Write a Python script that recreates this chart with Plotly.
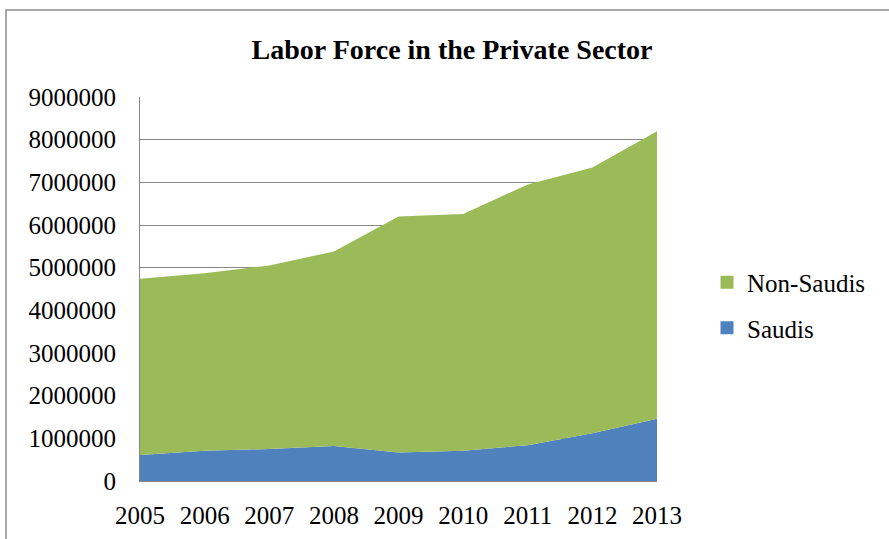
import plotly.graph_objects as go

# Private-sector labor force, 2005-2013
years = [2005, 2006, 2007, 2008, 2009, 2010, 2011, 2012, 2013]
saudis = [610000, 710000, 750000, 820000, 670000, 710000, 840000, 1120000, 1460000]
non_saudis = [4130000, 4160000, 4300000, 4560000, 5530000, 5550000, 6110000, 6230000, 6740000]

y_ticks = list(range(0, 9000001, 1000000))

FONT = "Liberation Serif"
GRID = "#868686"
BLUE = "#4F81BD"
GREEN = "#9BBB59"

fig = go.Figure()
# stacked areas (legend entries drawn by the square-marker traces below)
fig.add_trace(go.Scatter(
    x=years, y=saudis, name="Saudis", mode="lines",
    stackgroup="labor", line=dict(width=0, color=BLUE),
    fillcolor=BLUE, showlegend=False,
))
fig.add_trace(go.Scatter(
    x=years, y=non_saudis, name="Non-Saudis", mode="lines",
    stackgroup="labor", line=dict(width=0, color=GREEN),
    fillcolor=GREEN, showlegend=False,
))
for name, color in [("Non-Saudis", GREEN), ("Saudis", BLUE)]:
    fig.add_trace(go.Scatter(
        x=[None], y=[None], name=name, mode="markers",
        marker=dict(symbol="square", size=13, color=color),
        legendgroup=name,
    ))

W, H = 889, 539
L, R, T, B = 140, 657, 97, 481

def px_x(p):
    return (p - L) / (R - L)

def px_y(p):
    return (B - p) / (B - T)

fig.update_layout(
    width=W, height=H,
    margin=dict(l=L, r=W - R, t=T, b=H - B, autoexpand=False),
    paper_bgcolor="white", plot_bgcolor="white",
    font=dict(family=FONT, size=25, color="black"),
    title=dict(
        text="<b>Labor Force in the Private Sector</b>",
        x=452 / W, xanchor="center", y=1 - 49 / H, yanchor="middle",
        font=dict(family=FONT, size=28, color="black"),
    ),
    showlegend=True,
    legend=dict(
        traceorder="grouped",
        x=px_x(707), xanchor="left", y=px_y(305), yanchor="middle",
        font=dict(family=FONT, size=25, color="black"),
        itemwidth=30, tracegroupgap=10, bgcolor="rgba(0,0,0,0)",
    ),
    xaxis=dict(
        range=[2005, 2013], tickvals=years, ticktext=[str(y) for y in years],
        showgrid=False, zeroline=False,
        showline=True, linecolor=GRID, linewidth=1,
        ticks="", ticklabelstandoff=12,
        tickfont=dict(family=FONT, size=25, color="black"),
        fixedrange=True,
    ),
    yaxis=dict(
        range=[0, 9000000], tickvals=y_ticks,
        ticktext=[str(v) for v in y_ticks],
        showgrid=True, gridcolor=GRID, gridwidth=1,
        zeroline=False, showline=True, linecolor=GRID, linewidth=1,
        ticks="", ticklabelstandoff=18,
        tickfont=dict(family=FONT, size=25, color="black"),
        fixedrange=True,
    ),
    shapes=[dict(
        type="rect", xref="paper", yref="paper",
        x0=px_x(6), x1=px_x(895), y0=px_y(545), y1=px_y(10),
        line=dict(color="#8c8c8c", width=1.5), fillcolor="rgba(0,0,0,0)",
        layer="below",
    )],
)

fig.write_html("out.html")
